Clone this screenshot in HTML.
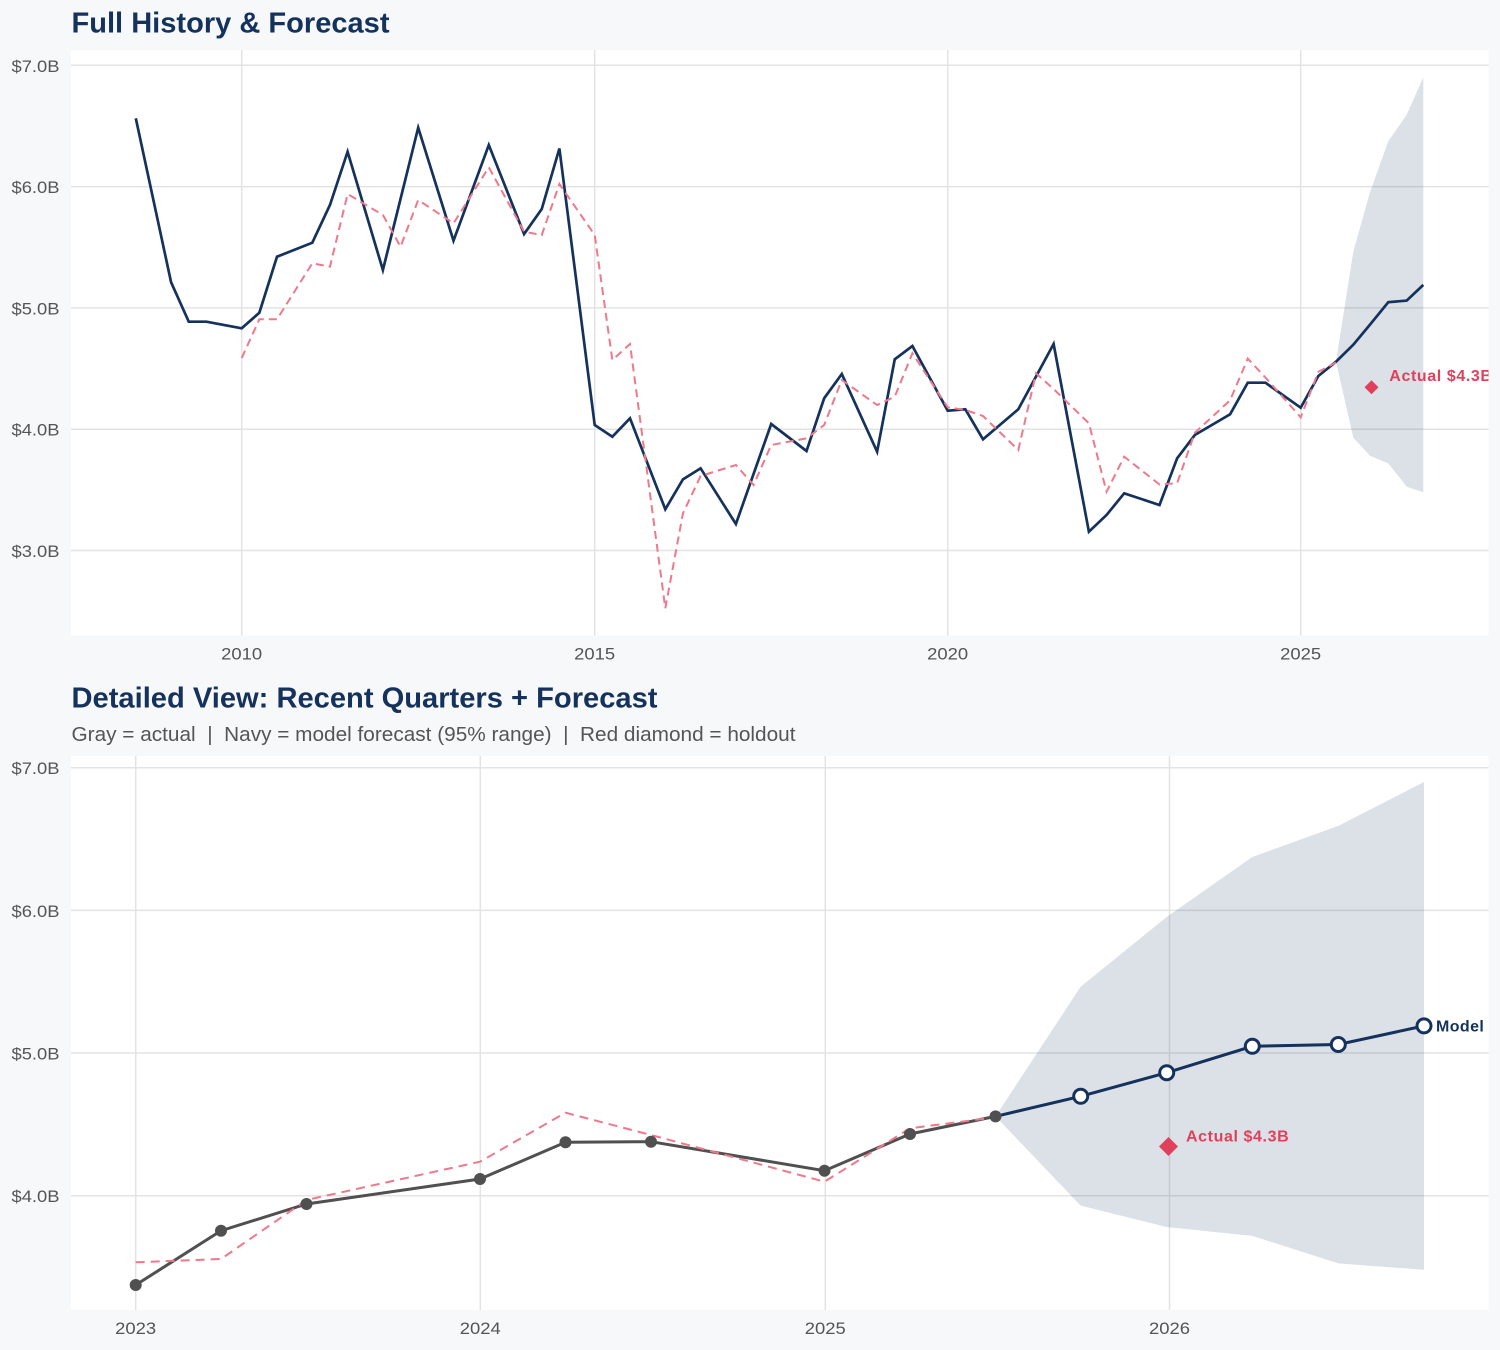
<!DOCTYPE html>
<html>
<head>
<meta charset="utf-8">
<style>
html,body{margin:0;padding:0;background:#f7f8fa;}
svg{display:block;}
text{font-family:"Liberation Sans",Arial,sans-serif;}
</style>
</head>
<body>
<svg width="1500" height="1350" viewBox="0 0 1500 1350" xmlns="http://www.w3.org/2000/svg">
<defs>
<clipPath id="c1"><rect x="71" y="50" width="1417.5" height="585.5"/></clipPath>
<clipPath id="c2"><rect x="71" y="756" width="1417.5" height="554"/></clipPath>
</defs>
<rect width="1500" height="1350" fill="#f7f8fa"/>

<!-- ================= TOP PANEL ================= -->
<text x="71.5" y="32.5" font-size="29" font-weight="bold" fill="#14325c" textLength="318" lengthAdjust="spacingAndGlyphs">Full History &amp; Forecast</text>
<rect x="71" y="50" width="1417.5" height="585.5" fill="#ffffff"/>
<g stroke="#e3e3e3" stroke-width="1.5">
<line x1="71" y1="65.3" x2="1488.5" y2="65.3"/>
<line x1="71" y1="186.6" x2="1488.5" y2="186.6"/>
<line x1="71" y1="307.9" x2="1488.5" y2="307.9"/>
<line x1="71" y1="429.2" x2="1488.5" y2="429.2"/>
<line x1="71" y1="550.5" x2="1488.5" y2="550.5"/>
<line x1="241.7" y1="50" x2="241.7" y2="635.5"/>
<line x1="594.7" y1="50" x2="594.7" y2="635.5"/>
<line x1="947.7" y1="50" x2="947.7" y2="635.5"/>
<line x1="1300.7" y1="50" x2="1300.7" y2="635.5"/>
</g>
<g clip-path="url(#c1)">
<polygon fill="#14325c" fill-opacity="0.15" points="1336,361.7 1353.3,251.6 1370,192.3 1388.3,141.2 1406.7,114.8 1423.3,77.4 1423.3,492.2 1406.7,486.7 1388.3,463.4 1370,455.8 1353.3,437.6"/>
<polyline fill="none" stroke="#14325c" stroke-width="2.7" stroke-linejoin="miter" points="135.8,118.3 171.1,282.3 188.75,321.7 206.4,321.7 241.7,328.3 259.35,312.7 277,256.7 312.3,242.7 329.95,205 347.6,151.7 382.9,270 418.2,127.7 453.5,240.7 488.8,145 524.1,234 541.75,209 559.4,148.5 594.7,425 612.35,436.7 630,418.3 665.3,509.3 682.95,479.3 700.6,468.3 735.9,524 771.2,424 806.5,451 824.15,398.3 841.8,374 877.1,451.7 894.75,359.3 912.4,346 947.7,410.7 965.35,409.3 983,439.3 1018.3,409.3 1053.6,344 1088.9,531.7 1106.55,515 1124.2,493.3 1159.5,505 1177.15,458.3 1194.8,435 1230.1,414.3 1247.75,382.7 1265.4,382.7 1300.7,407.7 1318.35,376 1336,361.7 1353.3,344.7 1370,324.6 1388.3,302.2 1406.7,300.6 1423.3,284.9"/>
<polyline fill="none" stroke="#ef788b" stroke-width="2" stroke-dasharray="8,5" points="241.7,358 259.35,319.3 277,319.3 312.3,263.3 329.95,266.7 347.6,194 382.9,215 400.55,246.7 418.2,200 453.5,223.3 488.8,167.3 524.1,231.7 541.75,235 559.4,184 594.7,235 612.35,360 630,344 665.3,608.3 682.95,513.3 700.6,476 735.9,465 753.55,485 771.2,445 806.5,438.3 824.15,425 841.8,380 877.1,405 894.75,396.7 912.4,353.3 947.7,407.3 965.35,410 983,416 1018.3,450 1036,373.3 1053.6,389 1088.9,423.3 1106.55,491.7 1124.2,456.7 1159.5,484.5 1177.15,483.1 1194.8,432.8 1230.1,400.3 1247.75,358.6 1265.4,377.5 1300.7,417.3 1318.35,371.8 1336,362.5"/>
<polygon fill="#e0405c" points="1371.5,380.3 1378.5,387.3 1371.5,394.3 1364.5,387.3"/>
<text x="1389.3" y="381" font-size="16" font-weight="bold" fill="#e0405c" letter-spacing="0.6">Actual $4.3B</text>
</g>
<g font-size="17" fill="#555555" text-anchor="end">
<text x="59.5" y="71.8" textLength="48" lengthAdjust="spacingAndGlyphs">$7.0B</text>
<text x="59.5" y="193.1" textLength="48" lengthAdjust="spacingAndGlyphs">$6.0B</text>
<text x="59.5" y="314.4" textLength="48" lengthAdjust="spacingAndGlyphs">$5.0B</text>
<text x="59.5" y="435.7" textLength="48" lengthAdjust="spacingAndGlyphs">$4.0B</text>
<text x="59.5" y="557" textLength="48" lengthAdjust="spacingAndGlyphs">$3.0B</text>
</g>
<g font-size="17" fill="#555555" text-anchor="middle">
<text x="241.7" y="659.3" textLength="41" lengthAdjust="spacingAndGlyphs">2010</text>
<text x="594.7" y="659.3" textLength="41" lengthAdjust="spacingAndGlyphs">2015</text>
<text x="947.7" y="659.3" textLength="41" lengthAdjust="spacingAndGlyphs">2020</text>
<text x="1300.7" y="659.3" textLength="41" lengthAdjust="spacingAndGlyphs">2025</text>
</g>

<!-- ================= BOTTOM PANEL ================= -->
<text x="71.5" y="707.5" font-size="29" font-weight="bold" fill="#14325c" textLength="586" lengthAdjust="spacingAndGlyphs">Detailed View: Recent Quarters + Forecast</text>
<text x="71.5" y="741" font-size="20" fill="#555555" textLength="724" lengthAdjust="spacingAndGlyphs" xml:space="preserve">Gray = actual  |  Navy = model forecast (95% range)  |  Red diamond = holdout</text>
<rect x="71" y="756" width="1417.5" height="554" fill="#ffffff"/>
<g stroke="#e3e3e3" stroke-width="1.5">
<line x1="71" y1="767.7" x2="1488.5" y2="767.7"/>
<line x1="71" y1="910.4" x2="1488.5" y2="910.4"/>
<line x1="71" y1="1053" x2="1488.5" y2="1053"/>
<line x1="71" y1="1195.7" x2="1488.5" y2="1195.7"/>
<line x1="135.7" y1="756" x2="135.7" y2="1310"/>
<line x1="480.3" y1="756" x2="480.3" y2="1310"/>
<line x1="825.3" y1="756" x2="825.3" y2="1310"/>
<line x1="1169.5" y1="756" x2="1169.5" y2="1310"/>
</g>
<g clip-path="url(#c2)">
<polygon fill="#14325c" fill-opacity="0.15" points="995.5,1116.4 1080.7,986.6 1166.7,917 1252.3,857 1338.3,825.9 1424,782 1424,1269.8 1338.3,1263.4 1252.3,1235.9 1166.7,1227 1080.7,1205.6"/>
<polyline fill="none" stroke="#505050" stroke-width="3" points="135.7,1285 221,1230.7 306.5,1204 480,1179 565.5,1142.3 651,1141.7 824.5,1170.7 910,1134 995.5,1116.4"/>
<polyline fill="none" stroke="#ef788b" stroke-width="2" stroke-dasharray="9,6" points="135.7,1262.3 221,1259 306.5,1200 480,1161.7 565.5,1112.7 651,1135 824.5,1181.7 910,1128.3 995.5,1117.3"/>
<polyline fill="none" stroke="#14325c" stroke-width="3" points="995.5,1116.4 1080.7,1096.3 1166.7,1072.7 1252.3,1046.3 1338.3,1044.5 1424,1025.9"/>
<g fill="#505050">
<circle cx="135.7" cy="1285" r="6"/>
<circle cx="221" cy="1230.7" r="6"/>
<circle cx="306.5" cy="1204" r="6"/>
<circle cx="480" cy="1179" r="6"/>
<circle cx="565.5" cy="1142.3" r="6"/>
<circle cx="651" cy="1141.7" r="6"/>
<circle cx="824.5" cy="1170.7" r="6"/>
<circle cx="910" cy="1134" r="6"/>
<circle cx="995.5" cy="1116.4" r="6"/>
</g>
<g fill="#ffffff" stroke="#14325c" stroke-width="3">
<circle cx="1080.7" cy="1096.3" r="7"/>
<circle cx="1166.7" cy="1072.7" r="7"/>
<circle cx="1252.3" cy="1046.3" r="7"/>
<circle cx="1338.3" cy="1044.5" r="7"/>
<circle cx="1424" cy="1025.9" r="7"/>
</g>
<polygon fill="#e0405c" points="1168.5,1137 1178,1146.5 1168.5,1156 1159,1146.5"/>
<text x="1186" y="1141.3" font-size="16" font-weight="bold" fill="#e0405c" letter-spacing="0.6">Actual $4.3B</text>
<text x="1436" y="1031.7" font-size="16" font-weight="bold" fill="#14325c" letter-spacing="0.4">Model</text>
</g>
<g font-size="17" fill="#555555" text-anchor="end">
<text x="59.5" y="774.2" textLength="48" lengthAdjust="spacingAndGlyphs">$7.0B</text>
<text x="59.5" y="916.9" textLength="48" lengthAdjust="spacingAndGlyphs">$6.0B</text>
<text x="59.5" y="1059.5" textLength="48" lengthAdjust="spacingAndGlyphs">$5.0B</text>
<text x="59.5" y="1202.2" textLength="48" lengthAdjust="spacingAndGlyphs">$4.0B</text>
</g>
<g font-size="17" fill="#555555" text-anchor="middle">
<text x="135.7" y="1334" textLength="41" lengthAdjust="spacingAndGlyphs">2023</text>
<text x="480.3" y="1334" textLength="41" lengthAdjust="spacingAndGlyphs">2024</text>
<text x="825.3" y="1334" textLength="41" lengthAdjust="spacingAndGlyphs">2025</text>
<text x="1169.5" y="1334" textLength="41" lengthAdjust="spacingAndGlyphs">2026</text>
</g>
</svg>
</body>
</html>
